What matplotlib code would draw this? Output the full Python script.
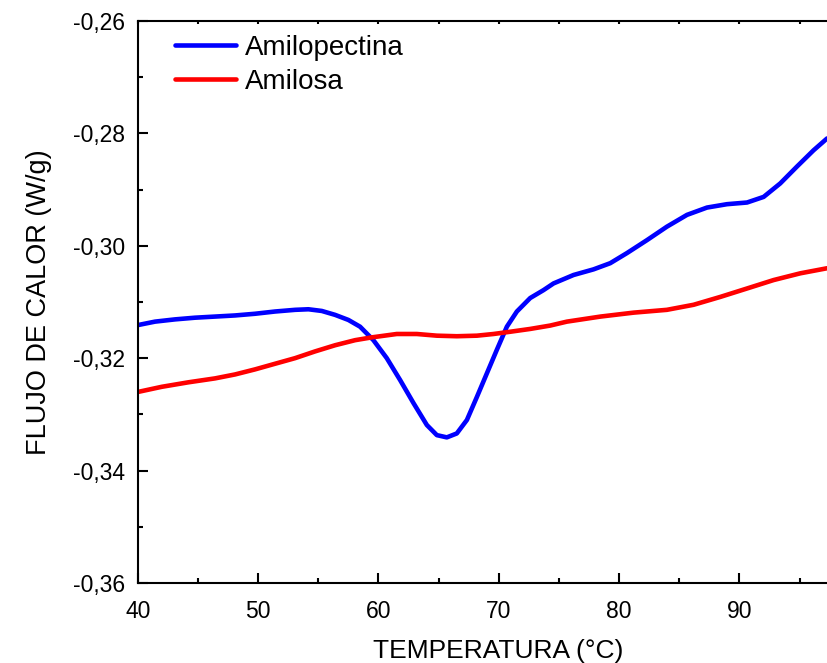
import matplotlib
matplotlib.use("Agg")
import matplotlib.pyplot as plt
from matplotlib.ticker import FixedLocator, MultipleLocator, FuncFormatter

plt.rcParams['font.family'] = ['Liberation Sans', 'DejaVu Sans']

# DSC curves: temperature (°C) vs heat flow (W/g)
temp_amilopectina = [40.05, 41.44, 43.10, 44.76, 46.43, 48.09, 49.75, 51.41, 53.08, 54.19,
                     55.30, 56.41, 57.51, 58.48, 59.59, 60.70, 61.81, 62.92, 64.03, 64.86,
                     65.69, 66.52, 67.36, 68.19, 69.02, 69.85, 70.68, 71.51, 72.62, 73.72,
                     74.56, 76.22, 77.88, 79.27, 80.66, 82.32, 83.98, 85.65, 87.31, 88.97,
                     90.64, 92.02, 93.40, 94.79, 96.17, 97.29]
flujo_amilopectina = [-0.3141, -0.3135, -0.3131, -0.3128, -0.3126, -0.3124, -0.3121, -0.3117,
                      -0.3114, -0.3113, -0.3116, -0.3123, -0.3132, -0.3144, -0.3168, -0.3200,
                      -0.3239, -0.3280, -0.3319, -0.3337, -0.3341, -0.3334, -0.3310, -0.3269,
                      -0.3227, -0.3185, -0.3144, -0.3117, -0.3093, -0.3079, -0.3067, -0.3052,
                      -0.3042, -0.3031, -0.3013, -0.2990, -0.2966, -0.2945, -0.2932, -0.2926,
                      -0.2923, -0.2913, -0.2889, -0.2859, -0.2830, -0.2809]

temp_amilosa = [40.05, 42.00, 44.21, 46.43, 48.09, 49.75, 51.41, 53.08, 54.74, 56.41,
                58.07, 59.46, 61.53, 63.20, 64.86, 66.52, 68.19, 69.57, 70.96, 72.62,
                74.28, 75.67, 78.46, 81.21, 83.98, 86.20, 88.42, 90.64, 92.85, 95.07, 97.29]
flujo_amilosa = [-0.3260, -0.3251, -0.3243, -0.3236, -0.3229, -0.3220, -0.3210, -0.3200,
                 -0.3188, -0.3177, -0.3168, -0.3163, -0.3157, -0.3157, -0.3160, -0.3161,
                 -0.3160, -0.3157, -0.3153, -0.3148, -0.3142, -0.3135, -0.3126, -0.3119,
                 -0.3114, -0.3105, -0.3091, -0.3076, -0.3061, -0.3049, -0.3040]

x_major = [40, 50, 60, 70, 80, 90]
x_minor = [45, 55, 65, 75, 85, 95]

fig = plt.figure(figsize=(8.27, 6.63), dpi=100)
ax = fig.add_axes([0.1665, 0.1208, 0.873, 0.8475])

ax.plot(temp_amilopectina, flujo_amilopectina, color='#0000ff', lw=3.3,
        label='Amilopectina', solid_capstyle='round', solid_joinstyle='round')
ax.plot(temp_amilosa, flujo_amilosa, color='#ff0000', lw=3.3,
        label='Amilosa', solid_capstyle='round', solid_joinstyle='round')

ax.set_xlim(40, 100)
ax.set_ylim(-0.36, -0.26)

ax.xaxis.set_major_locator(FixedLocator(x_major))
ax.xaxis.set_minor_locator(FixedLocator(x_minor))
ax.yaxis.set_major_locator(MultipleLocator(0.02))
ax.yaxis.set_minor_locator(MultipleLocator(0.01))
ax.yaxis.set_major_formatter(FuncFormatter(lambda v, p: f"{v:.2f}".replace('.', ',')))

ax.tick_params(axis='both', which='major', direction='in', length=7, width=1.5,
               labelsize=16.5)
ax.tick_params(axis='both', which='minor', direction='in', length=3.5, width=1.5)
ax.tick_params(axis='x', which='major', pad=12)
ax.tick_params(axis='y', which='major', pad=9)
ax.tick_params(axis='x', which='both', top=True)
for t in ax.xaxis.get_major_ticks() + ax.xaxis.get_minor_ticks():
    t.tick2line.set_markersize(2)

for s in ax.spines.values():
    s.set_linewidth(1.5)

ax.set_xlabel('TEMPERATURA (°C)', fontsize=19, labelpad=12)
ax.set_ylabel('FLUJO DE CALOR (W/g)', fontsize=19.5, labelpad=15)

ax.legend(loc='upper left', bbox_to_anchor=(0.025, 1.01), frameon=False, fontsize=20,
          handlelength=2.2, handletextpad=0.3, labelspacing=0.3, borderaxespad=0.3)

fig.savefig('out.png', dpi=100)
